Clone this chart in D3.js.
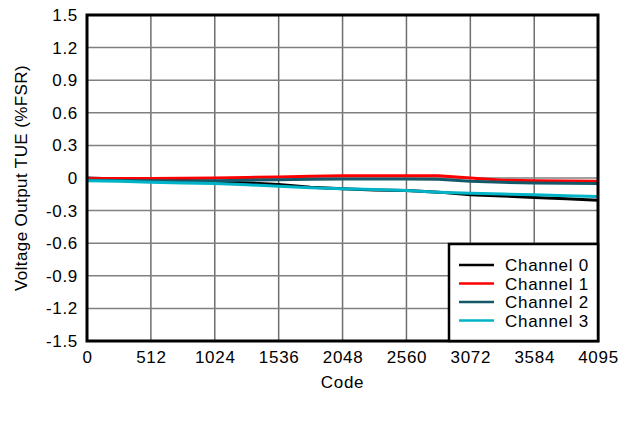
<!DOCTYPE html>
<html>
<head>
<meta charset="utf-8">
<script src="https://cdn.jsdelivr.net/npm/d3@7"></script>
<style>
  body { margin: 0; background: #fff; }
  text { font-family: "Liberation Sans", Arial, sans-serif; fill: #000; }
</style>
</head>
<body>
<svg id="chart" width="631" height="424"></svg>
<script>
// data
const codes = [0, 256, 512, 768, 1024, 1280, 1536, 1792, 2048, 2304, 2560, 2816, 3072, 3328, 3584, 3840, 4095];
const ch0 = [0, -0.01, -0.015, -0.022, -0.03, -0.045, -0.06, -0.085, -0.10, -0.11, -0.115, -0.13, -0.155, -0.165, -0.18, -0.19, -0.205];
const ch1 = [-0.005, -0.005, -0.004, -0.002, 0.0, 0.005, 0.01, 0.015, 0.02, 0.02, 0.02, 0.02, 0.0, -0.02, -0.025, -0.028, -0.03];
const ch2 = [-0.02, -0.022, -0.025, -0.027, -0.025, -0.02, -0.015, -0.012, -0.01, -0.01, -0.01, -0.012, -0.03, -0.04, -0.045, -0.048, -0.05];
const ch3 = [-0.025, -0.03, -0.038, -0.045, -0.05, -0.062, -0.075, -0.09, -0.10, -0.105, -0.115, -0.13, -0.14, -0.148, -0.155, -0.163, -0.17];
const seriesNames = ["Channel 0", "Channel 1", "Channel 2", "Channel 3"];
const seriesColors = ["#000000", "#ff0000", "#14596a", "#00b4c8"];
const xTicks = [0, 512, 1024, 1536, 2048, 2560, 3072, 3584, 4095];
const yTicks = [-1.5, -1.2, -0.9, -0.6, -0.3, 0, 0.3, 0.6, 0.9, 1.2, 1.5];

const L = 87, R = 598, T = 15, B = 341;
const FS = "17px", LS = "0.7px";
const svg = d3.select("#chart");
const x = d3.scaleLinear().domain([0, 4095]).range([L, R]);
const y = d3.scaleLinear().domain([-1.5, 1.5]).range([B, T]);

// 그리드
svg.append("g").selectAll("line").data(xTicks).join("line")
  .attr("x1", d => x(d)).attr("x2", d => x(d)).attr("y1", T).attr("y2", B)
  .attr("stroke", "#6e6e6e").attr("stroke-width", 1.5);
svg.append("g").selectAll("line").data(yTicks).join("line")
  .attr("x1", L).attr("x2", R).attr("y1", d => y(d)).attr("y2", d => y(d))
  .attr("stroke", "#808080").attr("stroke-width", 1.5);

// axes (labels only, no tick marks)
const yAxis = svg.append("g").attr("transform", `translate(${L},0)`)
  .call(d3.axisLeft(y).tickValues(yTicks).tickSize(0).tickPadding(9)
    .tickFormat(d => d === 0 ? "0" : d3.format(".1f")(d).replace("\u2212", "-")));
yAxis.select(".domain").remove();
yAxis.selectAll("text").style("font-size", FS).style("letter-spacing", LS)
  .style("font-family", "Liberation Sans, Arial, sans-serif");

const xAxis = svg.append("g").attr("transform", `translate(0,${B})`)
  .call(d3.axisBottom(x).tickValues(xTicks).tickSize(0).tickPadding(10).tickFormat(d3.format("d")));
xAxis.select(".domain").remove();
xAxis.selectAll("text").style("font-size", FS).style("letter-spacing", LS)
  .style("font-family", "Liberation Sans, Arial, sans-serif");

// lines
const allSeries = [ch0, ch1, ch2, ch3];
const line = d3.line().x((d, i) => x(codes[i])).y(d => y(d));
allSeries.forEach((s, i) => {
  svg.append("path").datum(s).attr("d", line)
    .attr("fill", "none").attr("stroke", seriesColors[i]).attr("stroke-width", 3)
    .attr("stroke-linejoin", "round");
});

// frame
svg.append("rect").attr("x", L).attr("y", T).attr("width", R - L).attr("height", B - T)
  .attr("fill", "none").attr("stroke", "#000").attr("stroke-width", 3);

// axis titles
svg.append("text").attr("x", (L + R) / 2).attr("y", 388).attr("text-anchor", "middle")
  .style("font-size", FS).style("letter-spacing", LS).text("Code");
svg.append("text").attr("transform", `translate(27,${(T + B) / 2}) rotate(-90)`)
  .attr("text-anchor", "middle").style("font-size", FS).style("letter-spacing", "0.4px")
  .text("Voltage Output TUE (%FSR)");

// legend
const lg = svg.append("g");
lg.append("rect").attr("x", 449).attr("y", 244).attr("width", 149).attr("height", 97)
  .attr("fill", "#fff").attr("stroke", "#000").attr("stroke-width", 2.5);
seriesNames.forEach((n, i) => {
  const yy = 265 + i * 18.5;
  lg.append("line").attr("x1", 459).attr("x2", 494).attr("y1", yy).attr("y2", yy)
    .attr("stroke", seriesColors[i]).attr("stroke-width", 2.5);
  lg.append("text").attr("x", 505).attr("y", yy + 6).style("font-size", FS)
    .style("letter-spacing", LS).text(n);
});
</script>
</body>
</html>
